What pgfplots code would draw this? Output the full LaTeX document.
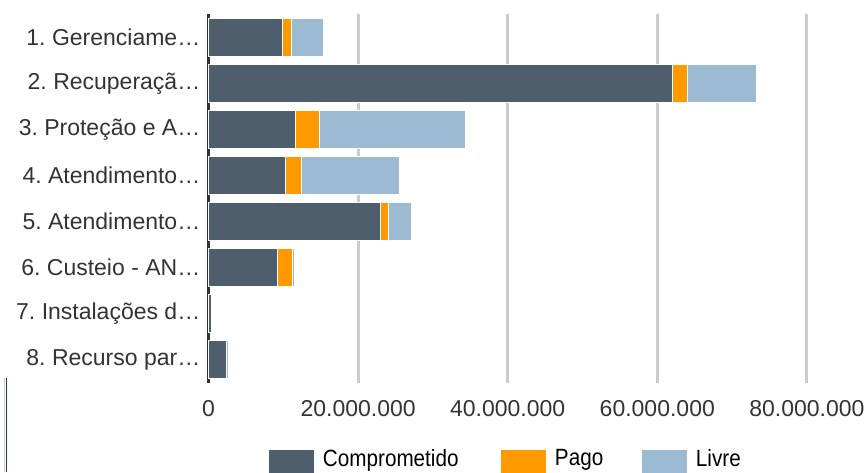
\documentclass[border=0pt]{standalone}
\usepackage{fontspec}
\setmainfont{Liberation Sans}
\newfontfamily\legfont{Liberation Sans}[FakeStretch=0.88]
\usepackage{pgfplots}
\pgfplotsset{compat=1.18}
\definecolor{cDark}{HTML}{4F5E6C}
\definecolor{cOrange}{HTML}{FF9900}
\definecolor{cBlue}{HTML}{9DBAD3}
\definecolor{cGrid}{HTML}{CCCCCC}
\definecolor{cText}{HTML}{333333}
\definecolor{cNavy}{HTML}{143C64}
\frenchspacing
\begin{document}
\begin{tikzpicture}[x=1pt,y=1pt]
\useasboundingbox (0,0) rectangle (868,472);
\draw[cGrid, line width=1pt] (4.5,0) -- (4.5,94);
\draw[cNavy, line width=1.6pt] (6.3,0) -- (6.3,94);
\begin{axis}[
  at={(208.5pt,89pt)}, anchor=south west,
  scale only axis, width=659.5pt, height=369pt,
  xbar stacked, bar width=38pt,
  xmin=0, xmax=88170000,
  ymin=-0.5, ymax=7.5,
  clip=false,
  axis line style={draw=none},
  ytick={0,...,7},
  yticklabels={8. Recurso par…, 7. Instalações d…, 6. Custeio - AN…, 5. Atendimento…, 4. Atendimento…, 3. Proteção e A…, 2. Recuperaçã…, 1. Gerenciame…},
  xtick={0,20000000,40000000,60000000,80000000},
  scaled x ticks=false,
  /pgf/number format/fixed,
  /pgf/number format/1000 sep={.},
  /pgf/number format/assume math mode=true,
  major tick length=0pt,
  tick style={draw=none},
  xmajorgrids,
  grid style={cGrid, line width=3pt},
  tick label style={font=\fontsize{23}{27}\selectfont\frenchspacing, text=cText, inner sep=0pt},
  yticklabel style={anchor=east, xshift=-8pt},
  xticklabel style={anchor=north, yshift=-17.7pt},
  legend columns=3,
  legend style={draw=none, fill=none, at={(0.0917,-0.1788)}, anchor=north west,
    inner sep=0pt, outer sep=0pt, column sep=0pt,
    font=\legfont\fontsize{23.5}{27}\selectfont, text=black,
    nodes={inner sep=0pt}},
  legend image code/.code={\fill[#1,draw=none] (0pt,-19pt) rectangle (45pt,8pt); \path (53.5pt,0pt);},
  every axis plot/.append style={draw=white, line width=1pt},
]
\addplot[fill=cDark] coordinates {(2410000,0) (350000,1) (9270000,2) (22940000,3) (10340000,4) (11680000,5) (62000000,6) (9830000,7)};
\addplot[fill=cOrange] coordinates {(0,0) (0,1) (1990000,2) (1140000,3) (2100000,4) (3220000,5) (2000000,6) (1310000,7)};
\addplot[fill=cBlue] coordinates {(270000,0) (150000,1) (240000,2) (3080000,3) (13110000,4) (19500000,5) (9300000,6) (4240000,7)};
\addlegendentry{\makebox[178pt][l]{Comprometido}}
\addlegendentry{\makebox[87pt][l]{Pago}}
\addlegendentry{Livre}
\draw[cText, line width=3pt] (axis cs:0,-0.5) -- (axis cs:0,7.5);
\end{axis}
\end{tikzpicture}
\end{document}
